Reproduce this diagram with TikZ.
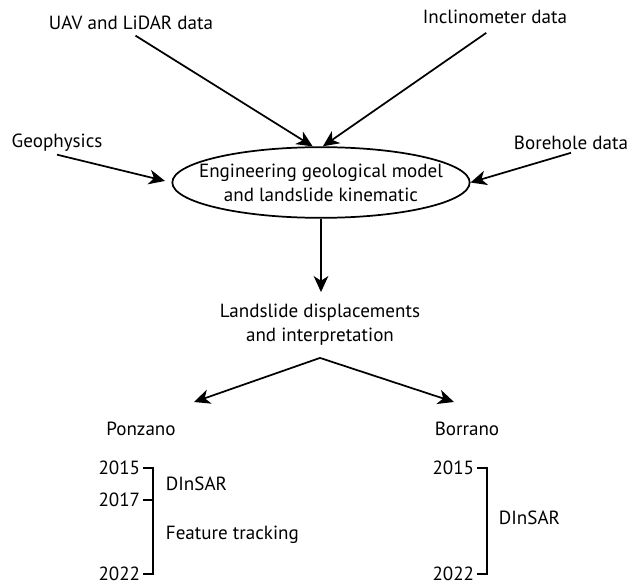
\documentclass[tikz,border=0pt]{standalone}
\usepackage{fontspec}
\setmainfont{PT Sans}
\usetikzlibrary{shapes.geometric, arrows.meta}

\begin{document}
\begin{tikzpicture}[x=0.75pt, y=-0.75pt]
	\tikzset{texte/.style={font=\fontsize{14.3}{18}\selectfont, align=center, inner sep=2pt},
		ovale/.style={texte, ellipse, draw, line width=1.3pt, inner sep=0pt, inner xsep=-40pt, minimum width=223pt, minimum height=53pt},
		fleche/.style={>={Stealth[length=12pt, width=11pt, inset=3.5pt]}, ->, line width=1.3pt},
		trait/.style={line width=1.3pt}};

	\useasboundingbox (0,0) rectangle (632,585);

	% sources de donnees
	\node[texte] (uav)  at (131,  23) {UAV and LiDAR data};
	\node[texte] (incl) at (495,  17) {Inclinometer data};
	\node[texte] (geo)  at ( 57, 143) {Geophysics};
	\node[texte] (bore) at (571, 143) {Borehole data};

	\node[ovale] (mod) at (321, 182.5) {Engineering geological model\\and landslide kinematic};
	\node[texte, inner sep=9pt] (dep) at (320, 325) {Landslide displacements\\and interpretation};

	\node[texte] (pon) at (141, 429) {Ponzano};
	\node[texte] (bor) at (467, 429) {Borrano};

	% Ponzano
	\node[texte, anchor=east] (p15) at (143, 468) {2015};
	\node[texte, anchor=east] (p17) at (143, 500) {2017};
	\node[texte, anchor=east] (p22) at (143, 574) {2022};
	\node[texte, anchor=west] (pd)  at (163, 484) {DInSAR};
	\node[texte, anchor=west] (pf)  at (163, 535) {Feature tracking};

	% Borrano
	\node[texte, anchor=east] (b15) at (477, 468) {2015};
	\node[texte, anchor=east] (b22) at (477, 574) {2022};
	\node[texte, anchor=west] (bd)  at (496, 518) {DInSAR};

	\coordinate (versP) at (194, 402);
	\coordinate (versB) at (454, 402);

	\draw[fleche, shorten <=4pt] (uav.south) -- (mod.103);
	\draw[fleche, shorten <=8pt] (incl.south) -- (mod.87);
	\draw[fleche, shorten >=5pt] (geo.south) -- (mod.west);
	\draw[fleche] (bore.south) -- (mod.east);
	\draw[fleche] (mod.south) -- (mod.south |- dep.north);
	\draw[fleche, <->] (versP) -- (dep.south) -- (versB);

	\draw[trait] (p15.east) -- ++(10,0) |- (p22.east);
	\draw[trait] (p17.east) -- ++(10,0);
	\draw[trait] (b15.east) -- ++(10,0) |- (b22.east);

\end{tikzpicture}
\end{document}
